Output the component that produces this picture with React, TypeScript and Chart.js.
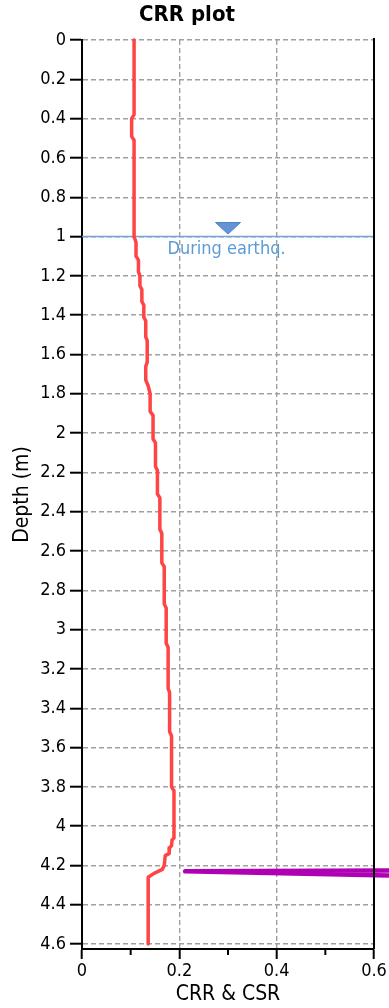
import { useEffect, useRef } from "react";
import { Chart, registerables } from "chart.js";

Chart.register(...registerables);

const FONT = "'DejaVu Sans Condensed', 'Liberation Sans', 'DejaVu Sans', sans-serif";

// CRR profile (red)
const CRR_DEPTH = [
  0, 0.38, 0.4, 0.49, 0.51, 1.0, 1.03, 1.1, 1.12, 1.18, 1.2, 1.25, 1.27, 1.33, 1.35, 1.41,
  1.43, 1.51, 1.53, 1.64, 1.66, 1.73, 1.76, 1.8, 1.89, 1.91, 2.03, 2.05, 2.17, 2.19, 2.31,
  2.33, 2.49, 2.51, 2.66, 2.68, 2.87, 2.89, 3.07, 3.09, 3.3, 3.32, 3.52, 3.54, 3.8, 3.82,
  4.06, 4.07, 4.1, 4.11, 4.14, 4.15, 4.2, 4.22, 4.24, 4.26, 4.6,
];
const CRR_VALUES = [
  0.107, 0.107, 0.102, 0.102, 0.107, 0.107, 0.111, 0.111, 0.116, 0.116, 0.119, 0.119, 0.123,
  0.123, 0.127, 0.127, 0.131, 0.131, 0.134, 0.134, 0.131, 0.131, 0.136, 0.14, 0.14, 0.146,
  0.146, 0.151, 0.151, 0.155, 0.155, 0.16, 0.16, 0.164, 0.164, 0.169, 0.169, 0.173, 0.173,
  0.177, 0.177, 0.18, 0.18, 0.184, 0.184, 0.189, 0.189, 0.185, 0.184, 0.18, 0.179, 0.171,
  0.169, 0.165, 0.148, 0.136, 0.136,
];

// CSR profile (purple)
const CSR_DEPTH = [4.225, 4.23, 4.256];
const CSR_VALUES = [0.72, 0.212, 0.72];

const Y_TICKS = [
  0, 0.2, 0.4, 0.6, 0.8, 1, 1.2, 1.4, 1.6, 1.8, 2, 2.2, 2.4, 2.6, 2.8, 3, 3.2, 3.4, 3.6, 3.8,
  4, 4.2, 4.4, 4.6,
];
const Y_TICK_LABELS = [
  "0", "0.2", "0.4", "0.6", "0.8", "1", "1.2", "1.4", "1.6", "1.8", "2", "2.2", "2.4", "2.6",
  "2.8", "3", "3.2", "3.4", "3.6", "3.8", "4", "4.2", "4.4", "4.6",
];
const X_TICKS = [0, 0.1, 0.2, 0.3, 0.4, 0.5, 0.6];
const X_TICK_LABELS = ["0", "", "0.2", "", "0.4", "", "0.6"];
const X_MINOR = [0.1, 0.3, 0.5];

const WATER_DEPTH = 1;
const WATER_MARK_X = 0.3;
const WATER_LABEL = "During earthq.";

const TITLE = "CRR plot";
const X_TITLE = "CRR & CSR";
const Y_TITLE = "Depth (m)";

const overlayPlugin = {
  id: "overlay",
  beforeDatasetsDraw(chart: any) {
    const { ctx, chartArea, scales } = chart;
    const x = scales.x;
    const y = scales.y;
    const yy = y.getPixelForValue(WATER_DEPTH);
    ctx.save();
    ctx.strokeStyle = "#72a2da";
    ctx.lineWidth = 1.5;
    ctx.beginPath();
    ctx.moveTo(chartArea.left, yy);
    ctx.lineTo(chartArea.right, yy);
    ctx.stroke();
    const cx = x.getPixelForValue(WATER_MARK_X);
    ctx.fillStyle = "#6395d4";
    ctx.strokeStyle = "#4f83c6";
    ctx.lineWidth = 1;
    ctx.beginPath();
    ctx.moveTo(cx - 12.5, yy - 14);
    ctx.lineTo(cx + 12.5, yy - 14);
    ctx.lineTo(cx, yy - 2.5);
    ctx.closePath();
    ctx.fill();
    ctx.stroke();
    ctx.fillStyle = "#5b9bd5";
    ctx.font = `18px ${FONT}`;
    ctx.textAlign = "center";
    ctx.textBaseline = "middle";
    ctx.fillText(WATER_LABEL, cx - 1.5, yy + 13);
    ctx.restore();
  },
  afterDatasetsDraw(chart: any) {
    const { ctx, chartArea, scales } = chart;
    const x = scales.x;
    ctx.save();
    ctx.strokeStyle = "#000";
    ctx.lineWidth = 2;
    const rx = x.getPixelForValue(0.6);
    ctx.beginPath();
    ctx.moveTo(rx, chartArea.top - 2);
    ctx.lineTo(rx, chartArea.bottom);
    ctx.stroke();
    X_MINOR.forEach((v) => {
      const px = x.getPixelForValue(v);
      ctx.beginPath();
      ctx.moveTo(px, chartArea.bottom);
      ctx.lineTo(px, chartArea.bottom + 6);
      ctx.stroke();
    });
    ctx.restore();
  },
};

export default function App() {
  const ref = useRef<HTMLCanvasElement | null>(null);

  useEffect(() => {
    if (!ref.current) return;
    const crrData = CRR_DEPTH.map((d, i) => ({ x: CRR_VALUES[i], y: d }));
    const csrData = CSR_DEPTH.map((d, i) => ({ x: CSR_VALUES[i], y: d }));
    const chart = new Chart(ref.current, {
      type: "scatter",
      data: {
        datasets: [
          {
            label: "CRR",
            data: crrData,
            showLine: true,
            borderColor: "#ff4444",
            backgroundColor: "#ff4444",
            borderWidth: 3.5,
            pointRadius: 0,
            borderJoinStyle: "round",
            clip: 4,
          } as any,
          {
            label: "CSR",
            data: csrData,
            showLine: true,
            borderColor: "#b000b4",
            backgroundColor: "#b000b4",
            borderWidth: 4.5,
            pointRadius: 0,
            borderCapStyle: "round",
            borderJoinStyle: "round",
            clip: false,
          } as any,
        ],
      },
      options: {
        responsive: false,
        animation: false,
        devicePixelRatio: 1,
        layout: { padding: { left: 0, right: 15, top: 0, bottom: 0 } },
        plugins: {
          legend: { display: false },
          tooltip: { enabled: false },
          title: {
            display: true,
            text: TITLE,
            color: "#000",
            font: { family: FONT, size: 22, weight: "bold" },
            padding: { top: 1.8, bottom: 11.8 },
          },
        },
        scales: {
          x: {
            type: "linear",
            position: "bottom",
            min: 0,
            max: 0.6,
            afterBuildTicks: (scale: any) => {
              scale.ticks = X_TICKS.map((v) => ({ value: v }));
            },
            afterFit: (scale: any) => {
              scale.height = 59;
            },
            ticks: {
              autoSkip: false,
              maxRotation: 0,
              color: "#000",
              padding: 2,
              font: { family: FONT, size: 18 },
              callback: (_v: any, i: number) => X_TICK_LABELS[i],
            },
            grid: {
              color: (c: any) =>
                c.tick && (c.tick.value === 0.2 || c.tick.value === 0.4) ? "#a0a0a0" : "rgba(0,0,0,0)",
              lineWidth: 1.4,
              tickLength: 10,
              tickWidth: 2,
              tickColor: (c: any) =>
                c.tick && X_MINOR.includes(c.tick.value) ? "rgba(0,0,0,0)" : "#000",
            },
            border: { display: true, color: "#000", width: 2, dash: [5, 3] },
            title: {
              display: true,
              text: X_TITLE,
              color: "#000",
              font: { family: FONT, size: 21 },
              padding: { top: 0, bottom: 1 },
            },
          },
          y: {
            type: "linear",
            position: "left",
            reverse: true,
            min: 0,
            max: 4.625,
            afterBuildTicks: (scale: any) => {
              scale.ticks = Y_TICKS.map((v) => ({ value: v }));
            },
            afterFit: (scale: any) => {
              scale.width = 82;
            },
            ticks: {
              autoSkip: false,
              color: "#000",
              padding: 4,
              font: { family: FONT, size: 18 },
              callback: (_v: any, i: number) => Y_TICK_LABELS[i],
            },
            grid: {
              color: "#a0a0a0",
              lineWidth: 1.4,
              tickLength: 12,
              tickWidth: 2,
              tickColor: "#000",
            },
            border: { display: true, color: "#000", width: 2, dash: [5, 3] },
            title: {
              display: true,
              text: Y_TITLE,
              color: "#000",
              font: { family: FONT, size: 21 },
              padding: { top: 10, bottom: 0 },
            },
          },
        },
      } as any,
      plugins: [overlayPlugin],
    });
    return () => chart.destroy();
  }, []);

  return (
    <canvas
      ref={ref}
      width={389}
      height={1008}
      style={{ position: "fixed", left: 0, top: 0, width: 389, height: 1008 }}
    />
  );
}
